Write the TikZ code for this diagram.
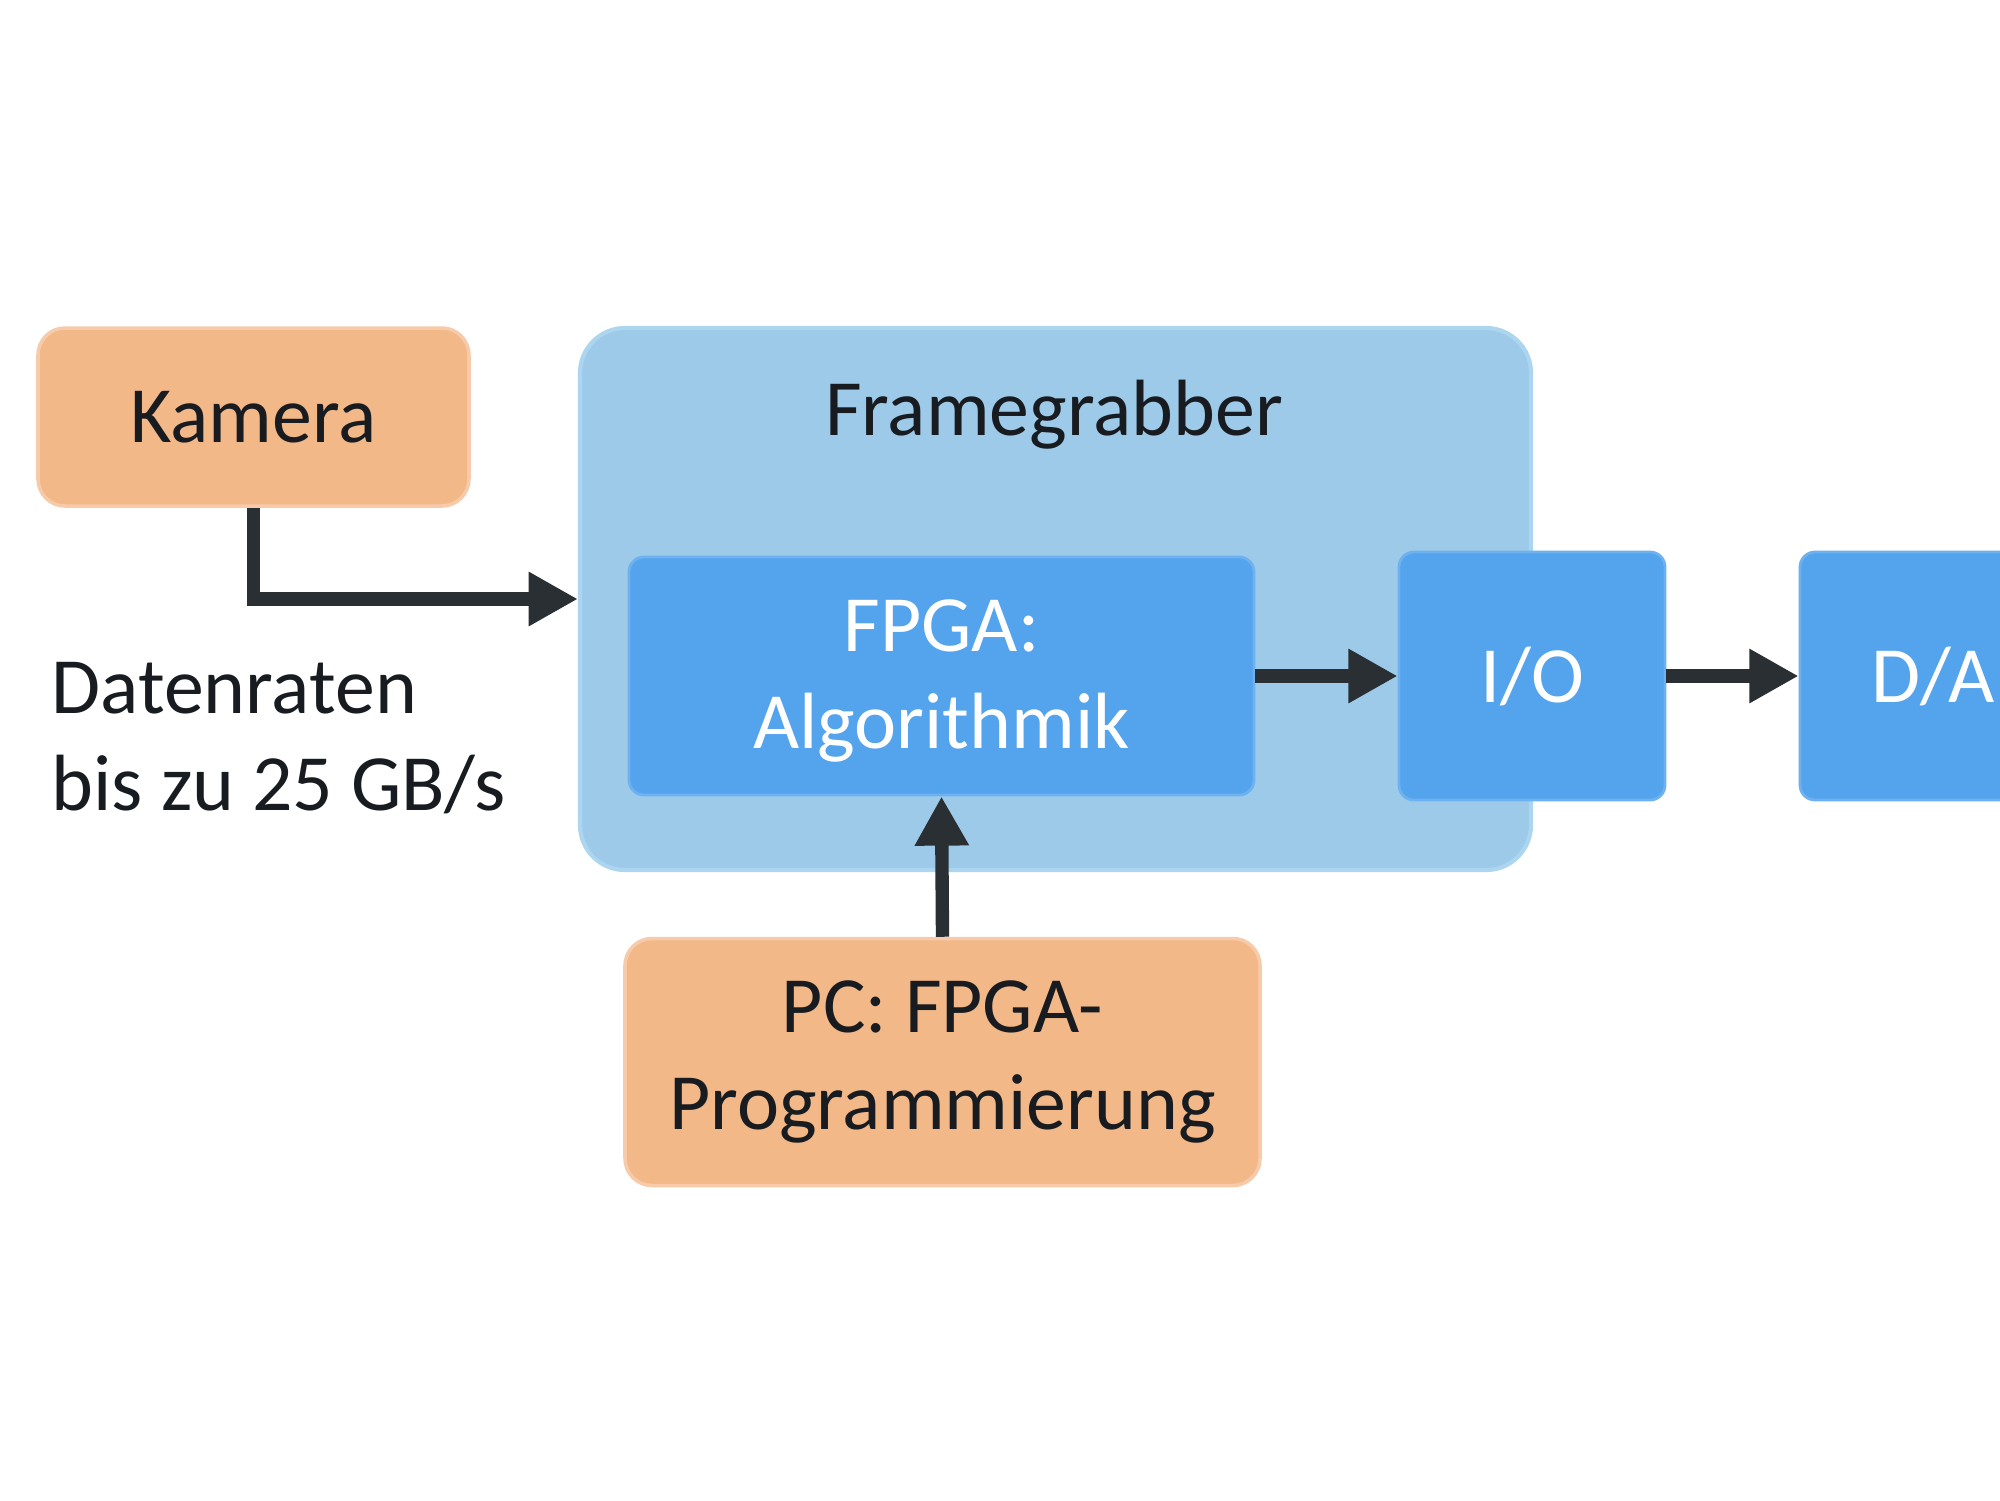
\documentclass[tikz,border=0pt]{standalone}
\usepackage{fontspec}
\setmainfont{Carlito}
\usetikzlibrary{arrows.meta}

\definecolor{kastenorange}{RGB}{242,184,136}
\definecolor{randorange}{RGB}{247,203,170}
\definecolor{hellblau}{RGB}{157,202,232}
\definecolor{randblau}{RGB}{172,213,240}
\definecolor{mittelblau}{RGB}{84,163,237}
\definecolor{pfeilgrau}{RGB}{42,47,51}
\definecolor{textgrau}{RGB}{24,28,32}

\begin{document}
\begin{tikzpicture}[>={Triangle[length=14pt,width=14.5pt]},
    every node/.style={font=\fontsize{22.7}{27.6}\selectfont, text=textgrau},
    orangebox/.style={fill=kastenorange, draw=randorange, line width=1pt,
        rounded corners=0.27cm, align=center},
    aussenbox/.style={fill=hellblau, draw=randblau, line width=1.2pt,
        rounded corners=0.45cm},
    blaubox/.style={fill=mittelblau, draw=mittelblau!85!white, line width=0.8pt,
        rounded corners=0.15cm, align=center, text=white},
    pfeil/.style={->, draw=pfeilgrau, line width=3.8pt}]
    % 1. Rahmen
    \useasboundingbox[fill=white] (0,0) rectangle (20,-15);

    % 2. Kamera und Framegrabber
    \node[orangebox, minimum width=4.31cm, minimum height=1.78cm] (kamera) at (2.535,-4.17) {Kamera};
    \node[aussenbox, minimum width=9.51cm, minimum height=5.42cm] (fg) at (10.555,-5.99) {};
    \node (fgtext) at (10.54,-4.15) {Framegrabber};

    % 3. Innere Bausteine
    \node[blaubox, minimum width=6.25cm, minimum height=2.38cm] (fpga) at (9.415,-6.76) {};
    \node[text=white, align=center] (fpgatext) at (9.415,-6.81) {FPGA:\\Algorithmik};
    \node[blaubox, minimum width=2.66cm, minimum height=2.48cm] (io) at (15.32,-6.76) {I/O};
    \node[blaubox, minimum width=2.66cm, minimum height=2.48cm] (da) at (19.33,-6.76) {D/A};
    \node[orangebox, minimum width=6.35cm, minimum height=2.47cm] (pc) at (9.425,-10.62) {PC: FPGA-\\Programmierung};

    % 4. Beschriftung
    \node[anchor=west, align=left, inner sep=0pt] (rate) at (0.51,-7.38) {Datenraten\\bis zu 25 GB/s};

    % 5. Pfeile
    \draw[pfeil] (kamera.south) |- (fg.west);
    \draw[pfeil] (fpga.east) -- (io.west);
    \draw[pfeil] (io.east) -- (da.west);
    \draw[pfeil] (pc.north) -- (fpga.south);
\end{tikzpicture}
\end{document}
